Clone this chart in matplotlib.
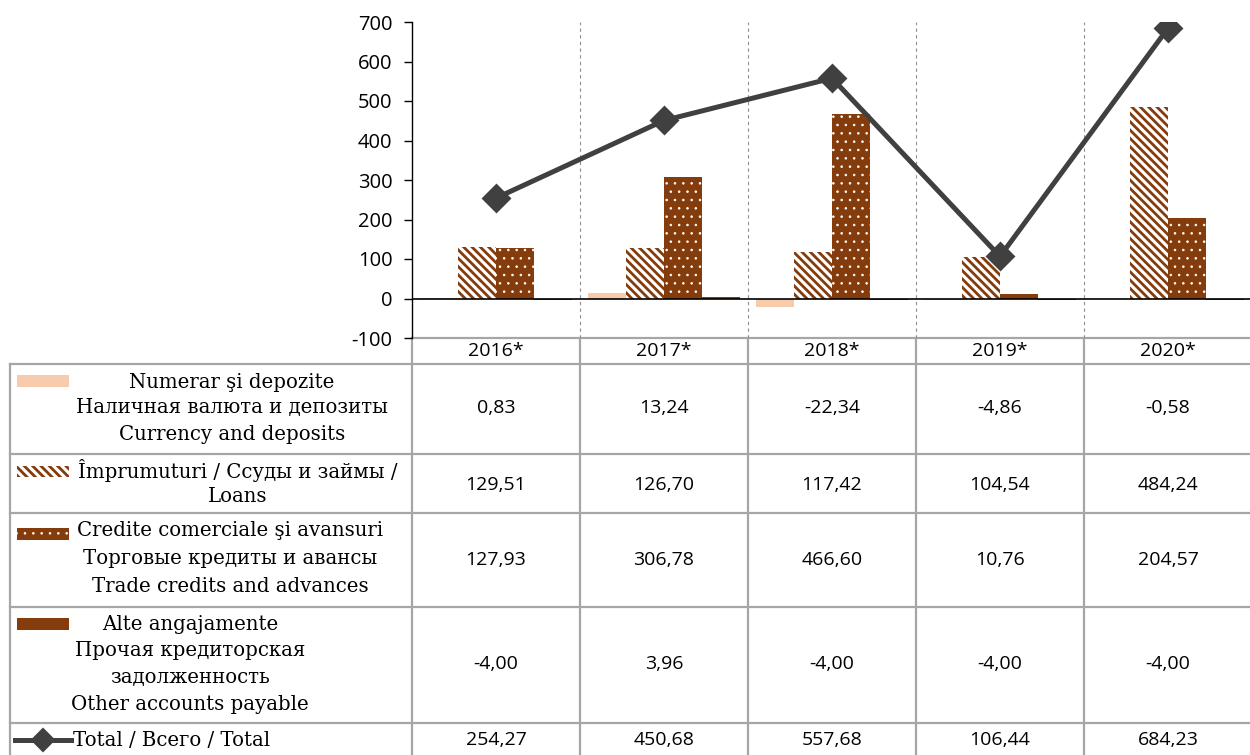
import matplotlib
matplotlib.use('Agg')
import matplotlib.pyplot as plt
from matplotlib.patches import Rectangle
from matplotlib.lines import Line2D

# dados
anos = ['2016*', '2017*', '2018*', '2019*', '2020*']
numerar = [0.83, 13.24, -22.34, -4.86, -0.58]
imprumuturi = [129.51, 126.70, 117.42, 104.54, 484.24]
credite = [127.93, 306.78, 466.60, 10.76, 204.57]
alte = [-4.00, 3.96, -4.00, -4.00, -4.00]
total = [254.27, 450.68, 557.68, 106.44, 684.23]

etiquetas = [
    ['Numerar şi depozite', 'Наличная валюта и депозиты', 'Currency and deposits'],
    ['Împrumuturi / Ссуды и займы /', 'Loans'],
    ['Credite comerciale şi avansuri', 'Торговые кредиты и авансы', 'Trade credits and advances'],
    ['Alte angajamente', 'Прочая кредиторская', 'задолженность', 'Other accounts payable'],
    ['Total / Всего / Total'],
]

PIERSICA = '#F8CBAD'
MARO = '#843C0C'
GRI = '#404040'
LINIE = '#A6A6A6'
SANS = 'Open Sans'
SERIF = 'DejaVu Serif'

plt.rcParams['axes.unicode_minus'] = False
plt.rcParams['hatch.linewidth'] = 2.0

HATCH_DIAG = '\\\\\\\\'
HATCH_PCT = '..'


def hatch_lw(artist, lw):
    """seteaza grosimea hasurii daca versiunea o permite"""
    if hasattr(artist, 'set_hatch_linewidth'):
        artist.set_hatch_linewidth(lw)


W, H = 1250, 755
fig = plt.figure(figsize=(W / 100, H / 100), dpi=100)

# axa pentru tabel, in pixeli
tab = fig.add_axes([0, 0, 1, 1])
tab.set_xlim(0, W)
tab.set_ylim(H, 0)
tab.axis('off')

x0, x1, ytop, ybot = 412, 1252, 22, 338
ax = fig.add_axes([x0 / W, (H - ybot) / H, (x1 - x0) / W, (ybot - ytop) / H])
ax.set_facecolor('none')

n = len(anos)
pos = list(range(n))
lat = 0.227
serii = [
    (numerar, dict(color=PIERSICA, linewidth=0), None),
    (imprumuturi, dict(facecolor='white', edgecolor=MARO, linewidth=0, hatch=HATCH_DIAG), 2.0),
    (credite, dict(facecolor=MARO, edgecolor='white', linewidth=0, hatch=HATCH_PCT), 0.6),
    (alte, dict(color=MARO, linewidth=0), None),
]
for k, (vals, stil, hlw) in enumerate(serii):
    off = (k - 1.5) * lat
    bare = ax.bar([p + off for p in pos], vals, lat, zorder=2, **stil)
    if hlw is not None:
        for b in bare:
            hatch_lw(b, hlw)

ax.plot(pos, total, color=GRI, linewidth=3.6, marker='D', markersize=13,
        markeredgewidth=2, solid_joinstyle='round', zorder=4)

ax.set_xlim(-0.5, n - 0.5)
ax.set_ylim(-100, 700)
ax.set_yticks(range(-100, 701, 100))
ax.tick_params(axis='y', direction='out', length=6, width=1, labelsize=14.5, pad=8)
for lbl in ax.get_yticklabels():
    lbl.set_fontfamily(SANS)
ax.set_xticks([])
ax.axhline(0, color='black', linewidth=1.2, zorder=3)
for i in range(1, n):
    ax.axvline(i - 0.5, color='#909090', linestyle=(0, (3, 3)), linewidth=0.8, zorder=1)
for s in ['top', 'right', 'bottom']:
    ax.spines[s].set_visible(False)
ax.spines['left'].set_linewidth(1.0)

# tabel
col_w = (x1 - x0) / n
lim_rand = [364, 454, 513, 607, 723]
tab.plot([x0, W], [ybot, ybot], color=LINIE, linewidth=1.6)
for y in lim_rand:
    tab.plot([10, W], [y, y], color=LINIE, linewidth=1.6)
tab.plot([10, 10], [364, H], color=LINIE, linewidth=1.6)
for i in range(n):
    x = x0 + i * col_w
    tab.plot([x, x], [ybot, H], color=LINIE, linewidth=1.6)
    tab.text(x + col_w / 2, 351, anos[i], ha='center', va='center',
             fontsize=14, family=SANS)

valori = [numerar, imprumuturi, credite, alte, total]
centre_val = [408, 485, 560, 664, 740]
for r, vals in enumerate(valori):
    for i, v in enumerate(vals):
        txt = f'{v:.2f}'.replace('.', ',')
        tab.text(x0 + (i + 0.5) * col_w, centre_val[r], txt, ha='center', va='center',
                 fontsize=14, family=SANS)

# etichete de rand
linii_y = [[382, 408, 434], [471, 497], [531, 559, 587], [624, 650, 677, 704], [740]]
centre_x = [232, 238, 230, 190, None]
for r, rows in enumerate(etiquetas):
    for t, y in zip(rows, linii_y[r]):
        if centre_x[r] is None:
            tab.text(73, y, t, ha='left', va='center', fontsize=14.2, family=SERIF)
        else:
            tab.text(centre_x[r], y, t, ha='center', va='center', fontsize=14.2, family=SERIF)

# chei de legenda
tab.add_patch(Rectangle((17, 375), 52, 12, color=PIERSICA, linewidth=0))
p = tab.add_patch(Rectangle((17, 466), 52, 11, facecolor='white', edgecolor=MARO,
                            linewidth=0, hatch=HATCH_DIAG))
hatch_lw(p, 2.0)
p = tab.add_patch(Rectangle((17, 528), 52, 12, facecolor=MARO, edgecolor='white',
                            linewidth=0, hatch=HATCH_PCT))
hatch_lw(p, 0.6)
tab.add_patch(Rectangle((17, 618), 52, 12, color=MARO, linewidth=0))
tab.add_line(Line2D([15, 71], [740, 740], color=GRI, linewidth=3.6))
tab.add_line(Line2D([43], [740], color=GRI, marker='D', markersize=11, markeredgewidth=1.5))

fig.savefig('out.png', dpi=100)
